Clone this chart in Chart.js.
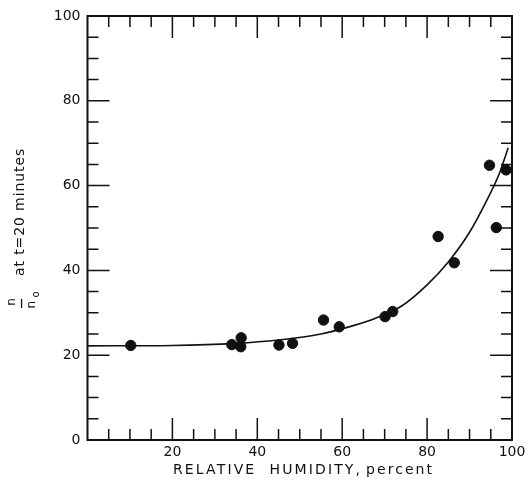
<!DOCTYPE html>
<html>
<head>
<meta charset="utf-8">
<script src="https://cdn.jsdelivr.net/npm/chart.js@4/dist/chart.umd.min.js"></script>
<style>
  html, body { margin: 0; padding: 0; background: #fff; }
  #c { display: block; }
</style>
</head>
<body>
<canvas id="c" width="532" height="481"></canvas>
<script>
// Measured points: relative humidity (%) and n/n0 at t = 20 minutes
const humidity = [10.2, 34.0, 36.2, 36.1, 45.1, 48.3, 55.6, 59.3, 70.1, 71.9, 82.6, 86.4, 94.7, 96.3, 98.6];
const ratio    = [22.3, 22.5, 24.1, 22.0, 22.4, 22.8, 28.3, 26.7, 29.1, 30.3, 48.0, 41.8, 64.8, 50.1, 63.7];

// Fitted curve
const curveHumidity = [0, 20, 35, 45, 55, 62, 68, 74, 80, 85, 90, 94, 97, 99.1];
const curveRatio    = [22.2, 22.3, 22.8, 23.6, 25.0, 26.8, 28.8, 31.6, 36.6, 42.0, 49.0, 56.4, 62.8, 68.9];

const xTickLabels = [20, 40, 60, 80, 100];
const yTickLabels = [0, 20, 40, 60, 80, 100];
const xTitleMain = 'RELATIVE  HUMIDITY,';
const xTitleUnit = 'percent';
const yTitle = 'at t=20 minutes';
const yFracNum = 'n';
const yFracDen = 'n';
const yFracSub = 'o';

const INK = '#111';
const FONT = '"DejaVu Sans", sans-serif';

const framePlugin = {
  id: 'frame',
  afterDatasetsDraw(chart) {
    const { ctx, chartArea: a, scales: { x, y } } = chart;
    ctx.save();
    ctx.strokeStyle = INK;
    ctx.lineWidth = 2;
    ctx.strokeRect(a.left, a.top, a.right - a.left, a.bottom - a.top);
    ctx.lineWidth = 1.5;
    ctx.beginPath();
    for (let v = 5; v < 100; v += 5) {
      const len = v % 20 === 0 ? 22 : 11;
      const px = x.getPixelForValue(v);
      const py = y.getPixelForValue(v);
      ctx.moveTo(px, a.bottom); ctx.lineTo(px, a.bottom - len);
      ctx.moveTo(px, a.top); ctx.lineTo(px, a.top + len);
      ctx.moveTo(a.left, py); ctx.lineTo(a.left + len, py);
      ctx.moveTo(a.right, py); ctx.lineTo(a.right - len, py);
    }
    ctx.stroke();
    ctx.restore();
  },
  afterDraw(chart) {
    const { ctx } = chart;
    ctx.save();
    ctx.fillStyle = INK;
    // x-axis title
    const fit = (text, x0, x1, base, size) => {
      ctx.font = size + 'px ' + FONT;
      ctx.letterSpacing = '0px';
      const w = ctx.measureText(text).width;
      const ls = Math.max(0, (x1 - x0 - w) / Math.max(1, text.length - 1));
      ctx.letterSpacing = ls + 'px';
      ctx.textAlign = 'left';
      ctx.textBaseline = 'alphabetic';
      ctx.fillText(text, x0, base);
      ctx.letterSpacing = '0px';
    };
    fit(xTitleMain, 173, 360, 474, 14);
    fit(xTitleUnit, 366, 432, 474, 14);

    // y-axis title (rotated)
    ctx.save();
    ctx.translate(24, 212);
    ctx.rotate(-Math.PI / 2);
    ctx.font = '14px ' + FONT;
    ctx.letterSpacing = '0.9px';
    ctx.textAlign = 'center';
    ctx.textBaseline = 'alphabetic';
    ctx.fillText(yTitle, 0, 0);
    ctx.letterSpacing = '0px';
    ctx.restore();

    // fraction n / n_o (rotated)
    ctx.save();
    ctx.translate(21.5, 303.5);
    ctx.rotate(-Math.PI / 2);
    ctx.font = '12px ' + FONT;
    ctx.textAlign = 'center';
    ctx.textBaseline = 'alphabetic';
    ctx.fillText(yFracNum, 1.5, -6.5);
    ctx.fillRect(-4.5, -0.6, 9, 1.3);
    ctx.fillText(yFracDen, -1.2, 13);
    ctx.font = '10px ' + FONT;
    ctx.fillText(yFracSub, 9, 17.5);
    ctx.restore();
    ctx.restore();
  }
};

new Chart(document.getElementById('c'), {
  type: 'scatter',
  data: {
    datasets: [
      {
        type: 'line',
        data: curveHumidity.map((h, i) => ({ x: h, y: curveRatio[i] })),
        borderColor: INK,
        borderWidth: 1.6,
        pointRadius: 0,
        fill: false,
        cubicInterpolationMode: 'monotone'
      },
      {
        data: humidity.map((h, i) => ({ x: h, y: ratio[i] })),
        backgroundColor: INK,
        borderColor: INK,
        pointRadius: 5.2,
        pointHoverRadius: 5.2
      }
    ]
  },
  options: {
    responsive: false,
    animation: false,
    devicePixelRatio: 1,
    layout: { padding: { top: 16, right: 20, left: 0, bottom: 0 } },
    plugins: { legend: { display: false }, tooltip: { enabled: false } },
    scales: {
      x: {
        type: 'linear', min: 0, max: 100,
        grid: { display: false, drawTicks: false },
        border: { display: false },
        afterBuildTicks(s) { s.ticks = xTickLabels.map(v => ({ value: v })); },
        afterFit(s) { s.height = 41; },
        ticks: {
          color: INK, padding: 4, maxRotation: 0, autoSkip: false,
          font: { family: FONT, size: 14 }
        }
      },
      y: {
        min: 0, max: 100,
        grid: { display: false, drawTicks: false },
        border: { display: false },
        afterBuildTicks(s) { s.ticks = yTickLabels.map(v => ({ value: v })); },
        afterFit(s) { s.width = 87.5; },
        ticks: {
          color: INK, padding: 7, autoSkip: false,
          font: { family: FONT, size: 14 }
        }
      }
    }
  },
  plugins: [framePlugin]
});
</script>
</body>
</html>
